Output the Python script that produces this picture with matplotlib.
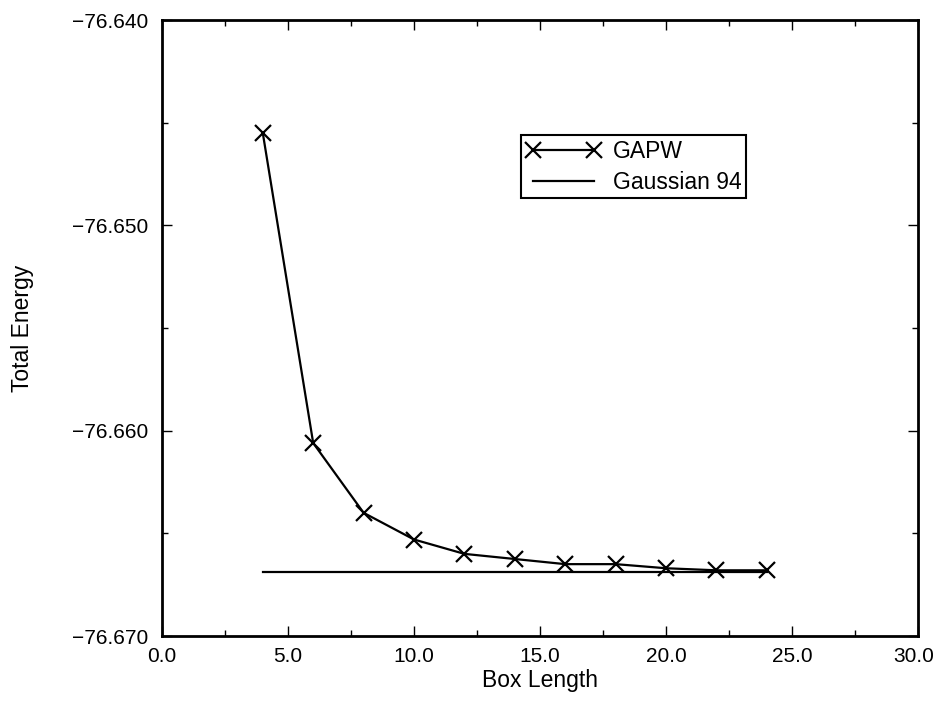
import matplotlib
matplotlib.use("Agg")
import matplotlib.pyplot as plt
from matplotlib.ticker import MultipleLocator, FuncFormatter

plt.rcParams['font.family'] = ['Liberation Sans', 'DejaVu Sans']

# GAPW total energy vs box length
box_length = [4, 6, 8, 10, 12, 14, 16, 18, 20, 22, 24]
gapw_energy = [-76.6455, -76.6606, -76.6640, -76.6653, -76.6660, -76.66625,
               -76.6665, -76.6665, -76.6667, -76.6668, -76.6668]

# Gaussian 94 reference value
gauss_x = [4, 24]
gauss_energy = [-76.6669, -76.6669]

x_max = 30


def fmt_x(v, p):
    if v >= x_max - 1e-9:
        return ''  # drawn separately below so it fits inside the figure
    return '%.1f' % v


fig = plt.figure(figsize=(9.34, 7.02), dpi=100)
ax = fig.add_axes([0.1734, 0.094, 0.8096, 0.8775])

ax.plot(box_length, gapw_energy, color='black', lw=1.6, marker='x',
        markersize=11, markeredgewidth=1.6, label='GAPW')
ax.plot(gauss_x, gauss_energy, color='black', lw=1.6, label='Gaussian 94')

ax.set_xlim(0, x_max)
ax.set_ylim(-76.670, -76.640)
ax.xaxis.set_major_locator(MultipleLocator(5))
ax.xaxis.set_minor_locator(MultipleLocator(2.5))
ax.yaxis.set_major_locator(MultipleLocator(0.01))
ax.yaxis.set_minor_locator(MultipleLocator(0.005))
ax.xaxis.set_major_formatter(FuncFormatter(fmt_x))
ax.yaxis.set_major_formatter(FuncFormatter(lambda v, p: ('%.3f' % v).replace('-', '\u2212')))

ax.tick_params(which='both', direction='in', top=True, right=True,
               labelsize=15, width=1)
ax.tick_params(which='major', length=7)
ax.tick_params(which='minor', length=4)
ax.tick_params(axis='y', which='major', pad=10)
ax.tick_params(axis='x', which='major', pad=8)
for s in ax.spines.values():
    s.set_linewidth(2)

# last x tick label, nudged a bit left
ax.annotate('%.1f' % x_max, xy=(x_max, 0), xycoords=ax.get_xaxis_transform(),
            xytext=(-3, -8), textcoords='offset points', ha='center', va='top',
            fontsize=15, annotation_clip=False)

ax.set_xlabel('Box Length', fontsize=16.5, labelpad=2)
ax.set_ylabel('Total Energy', fontsize=16.5, labelpad=27)

leg = ax.legend(loc='upper left', bbox_to_anchor=(0.475, 0.813), numpoints=2,
                fancybox=False, framealpha=1, edgecolor='black', fontsize=16.5,
                borderpad=0.2, handlelength=3.3, handletextpad=0.5,
                labelspacing=0.35, borderaxespad=0)
leg.get_frame().set_linewidth(1.5)

fig.savefig('out.png', dpi=100)
